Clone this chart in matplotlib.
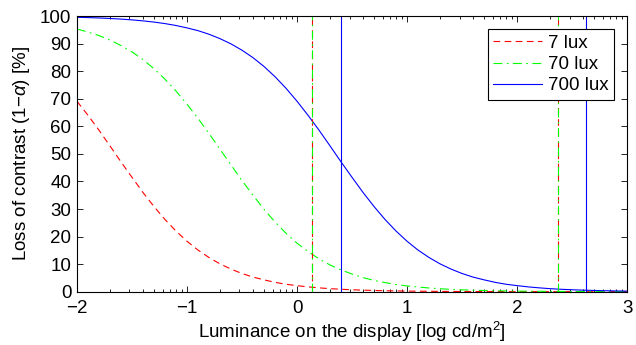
import numpy as np
import matplotlib
matplotlib.use('Agg')
import matplotlib.pyplot as plt
from matplotlib.ticker import FixedLocator

plt.rcParams['font.family'] = ['Liberation Sans', 'DejaVu Sans']
plt.rcParams['mathtext.fontset'] = 'custom'
plt.rcParams['mathtext.it'] = 'Liberation Sans:italic'
plt.rcParams['mathtext.rm'] = 'Liberation Sans'

# Luminance axis (log cd/m^2), read at 0.1 steps
lum = np.round(np.arange(-2.0, 3.0001, 0.1), 2)

# Loss of contrast [%]
loss_7lux = [69.1, 64.0, 58.6, 52.9, 47.1, 41.5, 36.0, 30.9, 26.2, 22.0,
             18.3, 15.1, 12.4, 10.1, 8.2, 6.6, 5.3, 4.3, 3.4, 2.7,
             2.2, 1.75, 1.4, 1.1, 0.88, 0.7, 0.56, 0.45, 0.35, 0.28,
             0.22, 0.18, 0.14, 0.11, 0.09, 0.07, 0.06, 0.04, 0.04, 0.03,
             0.02, 0.02, 0.02, 0.01, 0.01, 0.01, 0.01, 0.01, 0.0, 0.0, 0.0]
loss_70lux = [95.3, 94.2, 92.9, 91.3, 89.3, 87.0, 84.2, 80.9, 77.1, 72.8,
              68.0, 62.9, 57.4, 51.7, 46.0, 40.3, 35.0, 29.9, 25.3, 21.2,
              17.6, 14.6, 11.9, 9.7, 7.9, 6.4, 5.1, 4.1, 3.3, 2.6,
              2.1, 1.7, 1.35, 1.07, 0.85, 0.68, 0.54, 0.43, 0.34, 0.27,
              0.21, 0.17, 0.14, 0.11, 0.09, 0.07, 0.06, 0.04, 0.04, 0.03, 0.02]
loss_700lux = [99.55, 99.44, 99.3, 99.12, 98.89, 98.61, 98.25, 97.81, 97.26, 96.57,
               95.7, 94.7, 93.4, 91.8, 89.9, 87.6, 84.9, 81.7, 78.0, 73.8,
               69.1, 64.0, 58.6, 52.9, 47.1, 41.5, 36.0, 30.9, 26.2, 22.0,
               18.3, 15.1, 12.4, 10.1, 8.2, 6.6, 5.3, 4.3, 3.4, 2.7,
               2.2, 1.75, 1.4, 1.1, 0.88, 0.7, 0.56, 0.45, 0.35, 0.28, 0.22]

# vertical markers (log cd/m^2) per illuminance
marks_7lux = [0.14, 2.37]
marks_70lux = [0.14, 2.37]
marks_700lux = [0.40, 2.63]

labels = ['7 lux', '70 lux', '700 lux']

fs = 13.5
fig = plt.figure(figsize=(6.36, 3.45), dpi=100)
ax = fig.add_axes([0.121, 0.1545, 0.865, 0.799])

lw = 0.8
red_ls = (0, (6, 4))
green_ls = (0, (8, 4, 1.5, 4))

ax.plot(lum, loss_7lux, color='red', lw=lw, ls=red_ls, label=labels[0])
ax.plot(lum, loss_70lux, color='#00ff00', lw=lw, ls=green_ls, label=labels[1])
ax.plot(lum, loss_700lux, color='blue', lw=lw, ls='-', label=labels[2])

for xv in marks_7lux:
    ax.plot([xv, xv], [0, 100], color='red', lw=lw, ls=red_ls)
for xv in marks_70lux:
    ax.plot([xv, xv], [0, 100], color='#00ff00', lw=lw, ls=green_ls)
for xv in marks_700lux:
    ax.plot([xv, xv], [0, 100], color='blue', lw=lw, ls='-')

ax.set_xlim(-2, 3)
ax.set_ylim(0, 100)
ax.set_xticks(range(-2, 4))
ax.set_xticklabels(['\u22122', '\u22121', '0', '1', '2', '3'])
ax.set_yticks(range(0, 101, 10))

# log-style minor ticks inside each decade
minor = [d + np.log10(k) for d in range(-2, 3) for k in range(2, 10)]
ax.xaxis.set_minor_locator(FixedLocator(minor))

ax.tick_params(which='both', direction='in', top=True, right=True, labelsize=fs,
               width=0.6)
ax.tick_params(axis='x', pad=6)
ax.tick_params(axis='y', pad=4)
ax.tick_params(which='major', length=4)
ax.tick_params(which='minor', length=2.2)
for s in ax.spines.values():
    s.set_linewidth(0.8)

ax.set_xlabel('Luminance on the display [log cd/m$^2$]', fontsize=fs, labelpad=2)
ax.set_ylabel('Loss of contrast (1\u2212$\\mathit{\\alpha}$) [%]', fontsize=fs, labelpad=6)

leg = ax.legend(loc='upper right', fontsize=fs, fancybox=False, framealpha=1,
                edgecolor='black', borderaxespad=0.7, handlelength=2.6,
                borderpad=0.3, labelspacing=0.22, handletextpad=0.3)
leg.get_frame().set_linewidth(0.8)

fig.savefig('out.png', dpi=100)
